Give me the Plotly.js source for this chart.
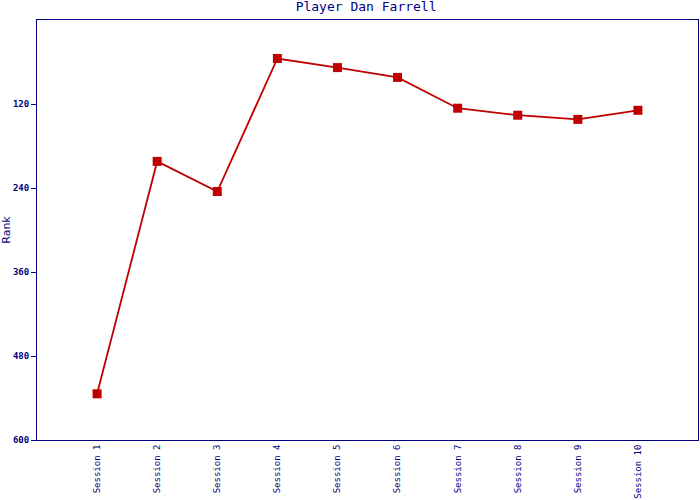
<!DOCTYPE html>
<html>
<head>
<meta charset="utf-8">
<script src="https://cdn.plot.ly/plotly-3.0.1.min.js"></script>
<style>html,body{margin:0;padding:0;background:#fff;}#chart{width:700px;height:500px;}</style>
</head>
<body>
<div id="chart"></div>
<script>
var sessions = ["Session 1","Session 2","Session 3","Session 4","Session 5","Session 6","Session 7","Session 8","Session 9","Session 10"];
var ranks = [534, 202, 245, 55, 68, 82, 126, 136, 142, 129];
var yTicks = [120, 240, 360, 480, 600];

var navy = "#000080";
var trace = {
  x: sessions,
  y: ranks,
  type: "scatter",
  mode: "lines+markers",
  line: {color: "#c00000", width: 1.8},
  marker: {symbol: "square", size: 9, color: "#c00000"},
  hoverinfo: "none"
};
var layout = {
  width: 700, height: 500,
  margin: {l: 37, r: 2, t: 20, b: 60},
  paper_bgcolor: "#ffffff",
  plot_bgcolor: "#ffffff",
  showlegend: false,
  title: {text: "Player Dan Farrell", font: {family: "DejaVu Sans Mono", size: 13, color: navy}, x: 0.523, xanchor: "center", y: 0.996, yanchor: "top"},
  xaxis: {
    type: "category",
    range: [-1, 10],
    showgrid: false, zeroline: false,
    showline: true, mirror: true, linecolor: navy, linewidth: 1,
    ticks: "", tickangle: -90,
    tickfont: {family: "DejaVu Sans Mono", size: 9, color: navy},
    automargin: false
  },
  yaxis: {
    range: [600, 0],
    tickvals: yTicks,
    showgrid: false, zeroline: false,
    showline: true, mirror: true, linecolor: navy, linewidth: 1,
    ticks: "outside", ticklen: 5, tickcolor: navy,
    tickfont: {family: "DejaVu Sans Mono", size: 9, color: navy, weight: "bold"},
    title: {text: "Rank", font: {family: "DejaVu Sans", size: 11, color: navy}, standoff: 4},
    automargin: false
  }
};
Plotly.newPlot("chart", [trace], layout, {staticPlot: true, displayModeBar: false});
</script>
</body>
</html>
